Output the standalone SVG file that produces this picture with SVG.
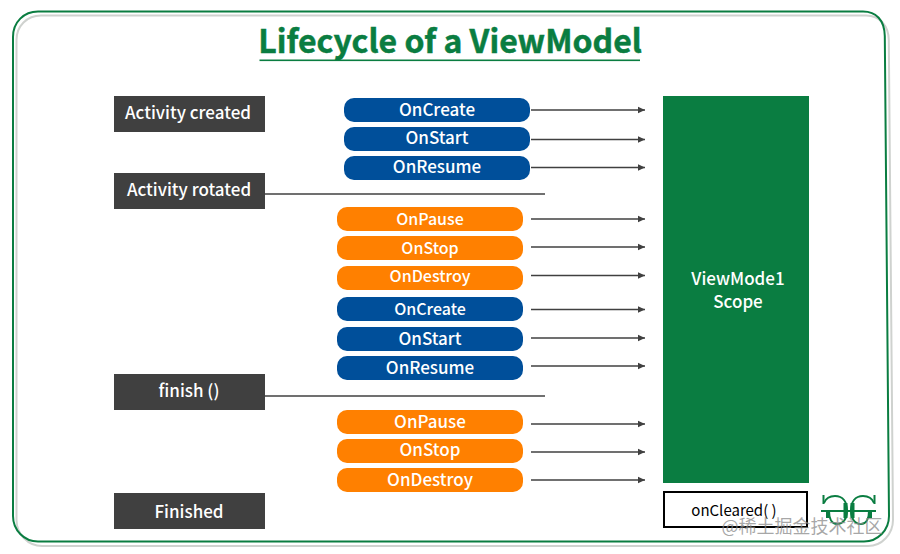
<svg xmlns="http://www.w3.org/2000/svg" width="900" height="554" viewBox="0 0 900 554">
<defs>
<marker id="arr" markerWidth="8" markerHeight="8" refX="7" refY="4" markerUnits="userSpaceOnUse" orient="auto"><path d="M0,0.8 L7,4 L0,7.2 Z" fill="#404040"/></marker>
</defs>
<style>
text{font-family:"Noto Sans CJK SC","Noto Sans",sans-serif;text-anchor:middle;font-weight:500}
.dark rect{fill:#404040}
.dark text{fill:#fff;font-size:17px}
.blue rect{fill:#004f9a}
.orange rect{fill:#ff8000}
.pill text{fill:#fff;font-size:17px}
.pill text.s{font-size:16px}
.arr{stroke:#404040;stroke-width:1.6;fill:none;marker-end:url(#arr)}
.line{stroke:#404040;stroke-width:1.7;fill:none}
</style>
<rect width="900" height="554" fill="#fff"/>
<path id="frame-shadow" d="M41 15.500H866C880 15.500 888.500 26 888.800 40L893 520C893 534 882 546 868 546H42C28 546 16.500 534 16.500 520V40C16.500 26 27 15.500 41 15.500Z" fill="none" stroke="#cfd2cf" stroke-width="2"/>
<path id="frame" d="M38 11.500H863C876 11.500 884.500 20 884.800 36L889 516C889 530 878 541.500 864 541.500H38C24 541.500 13 530 13 516V37C13 22 24 11.500 38 11.500Z" fill="none" stroke="#0a7d41" stroke-width="2"/>
<g id="title"><text x="450" y="53" font-size="32" style="font-weight:700" fill="#0a7d41" stroke="#0a7d41" stroke-width="0.5">Lifecycle of a ViewModel</text><rect x="259.500" y="59.500" width="380.500" height="1.600" fill="#0a7d41"/></g>
<g id="connectors">
<path class="arr" d="M531 110H645"/><path class="arr" d="M531 139.500H645"/><path class="arr" d="M531 167.500H645"/>
<path class="arr" d="M531 219H645"/><path class="arr" d="M531 247H645"/><path class="arr" d="M531 275.500H645"/>
<path class="arr" d="M531 309.500H645"/><path class="arr" d="M531 338H645"/><path class="arr" d="M531 366H645"/>
<path class="arr" d="M531 424H645"/><path class="arr" d="M531 452H645"/><path class="arr" d="M531 480H645"/>
<path class="line" d="M265 194H545"/><path class="line" d="M265 396H545"/>
</g>
<g id="n-activity-created" class="dark"><rect x="114" y="96" width="151" height="36"/><text x="188" y="119">Activity created</text></g>
<g id="n-activity-rotated" class="dark"><rect x="114" y="173" width="151" height="36"/><text x="189" y="196">Activity rotated</text></g>
<g id="n-finish" class="dark"><rect x="114" y="374" width="151" height="36"/><text x="189" y="397">finish ()</text></g>
<g id="n-finished" class="dark"><rect x="114" y="493" width="151" height="36"/><text x="189" y="518">Finished</text></g>
<g id="p1" class="pill blue"><rect x="344" y="98" width="186" height="24" rx="10"/><text x="437" y="116">OnCreate</text></g>
<g id="p2" class="pill blue"><rect x="344" y="127" width="186" height="24" rx="10"/><text x="437" y="144">OnStart</text></g>
<g id="p3" class="pill blue"><rect x="344" y="156" width="186" height="24" rx="10"/><text x="437" y="173">OnResume</text></g>
<g id="p4" class="pill orange"><rect x="337" y="207" width="186" height="24" rx="10"/><text class="s" x="430" y="225">OnPause</text></g>
<g id="p5" class="pill orange"><rect x="337" y="236" width="186" height="24" rx="10"/><text class="s" x="430" y="254">OnStop</text></g>
<g id="p6" class="pill orange"><rect x="337" y="266" width="186" height="24" rx="10"/><text class="s" x="430" y="282">OnDestroy</text></g>
<g id="p7" class="pill blue"><rect x="337" y="297" width="186" height="24" rx="10"/><text class="s" x="430" y="315">OnCreate</text></g>
<g id="p8" class="pill blue"><rect x="337" y="327" width="186" height="24" rx="10"/><text x="430" y="345">OnStart</text></g>
<g id="p9" class="pill blue"><rect x="337" y="356" width="186" height="24" rx="10"/><text x="430" y="374">OnResume</text></g>
<g id="p10" class="pill orange"><rect x="337" y="410" width="186" height="24" rx="10"/><text x="430" y="428">OnPause</text></g>
<g id="p11" class="pill orange"><rect x="337" y="439" width="186" height="24" rx="10"/><text x="430" y="456">OnStop</text></g>
<g id="p12" class="pill orange"><rect x="337" y="468" width="186" height="24" rx="10"/><text x="430" y="486">OnDestroy</text></g>
<g id="scope"><rect x="663" y="96" width="146" height="387" fill="#0a7d41"/><text x="738" y="285" font-size="17" fill="#fff">ViewMode1</text><text x="738" y="308" font-size="17" fill="#fff">Scope</text></g>
<g id="cleared"><rect x="664" y="492" width="143" height="35" fill="#fff" stroke="#000" stroke-width="2"/><text x="734" y="516" font-size="15" style="font-weight:400" fill="#000">onCleared( )</text></g>
<g id="logo" fill="none" stroke="#0a7d41" stroke-width="2"><path d="M821 511H876M823.500 495V504M874.500 495V504"/><path d="M824 503C826 498 830 496 835 496C843 496 847 502 847 511C847 519 843 524 837 524C832 524 829 519 829 511"/><path d="M874 503C872 498 868 496 863 496C855 496 851 502 851 511C851 519 855 524 861 524C866 524 869 519 869 511"/><path stroke-width="4" d="M845.500 503V518M852.500 503V518M828 511V518M870 511V518"/></g>
<text id="watermark" x="802" y="533" font-size="18" style="font-weight:400" fill="#8a8a8a" fill-opacity="0.75">@稀土掘金技术社区</text>
</svg>
